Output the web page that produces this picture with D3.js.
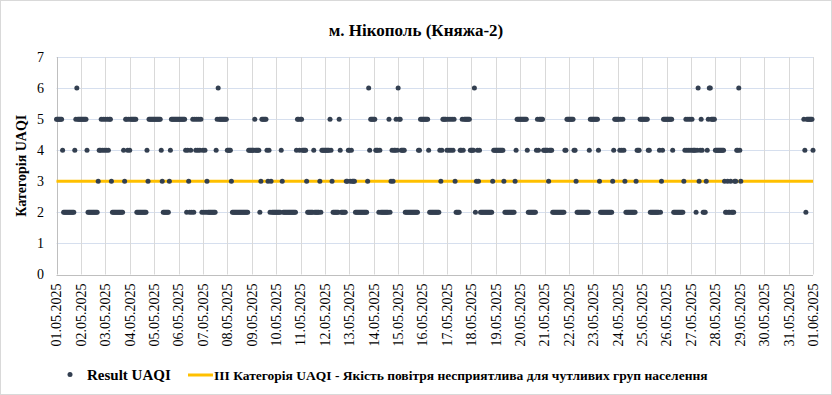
<!DOCTYPE html>
<html>
<head>
<meta charset="utf-8">
<script src="https://cdn.jsdelivr.net/npm/d3@7"></script>
<style>
  body { margin: 0; background: #fff; }
  svg { display: block; }
</style>
</head>
<body>
<svg id="chart" width="832" height="395"></svg>
<script>
// ---- data ----
const chartTitle = "м. Нікополь (Княжа-2)";
const yTitle = "Категорія UAQI";
const seriesName = "Result UAQI";
const thresholdName = "III Категорія UAQI - Якість повітря несприятлива для чутливих груп населення";
const thresholdValue = 3;
const yTicks = [0, 1, 2, 3, 4, 5, 6, 7];
const dayLabels = [
  "01.05.2025", "02.05.2025", "03.05.2025", "04.05.2025", "05.05.2025", "06.05.2025",
  "07.05.2025", "08.05.2025", "09.05.2025", "10.05.2025", "11.05.2025", "12.05.2025",
  "13.05.2025", "14.05.2025", "15.05.2025", "16.05.2025", "17.05.2025", "18.05.2025",
  "19.05.2025", "20.05.2025", "21.05.2025", "22.05.2025", "23.05.2025", "24.05.2025",
  "25.05.2025", "26.05.2025", "27.05.2025", "28.05.2025", "29.05.2025", "30.05.2025",
  "31.05.2025", "01.06.2025"
];
// hourly UAQI category, one string per day (hours 00..23), "-" = no value
const uaqiByDay = [
  "555555422222222222456555",
  "555555422222222223445454",
  "545455322222222222435545",
  "455555522222222224355555",
  "555555543222222345555555",
  "555555542432425254545452",
  "424232222222245655555555",
  "444432222222222222222444",
  "444544442355555434232222",
  "222224322222222222224554",
  "554444322222242222232444",
  "444445432222225422222334",
  "434333222222222222364555",
  "554442422222222523434454",
  "655444422222222222224455",
  "555555422222222224345555",
  "454545453222244545555554",
  "444623434222222222222344",
  "444444443222222222234555",
  "555555542222222245455554",
  "444434442222222222224455",
  "555554432222222222224555",
  "555554322222222222234555",
  "554545432222222222344455",
  "555555442222222224234555",
  "555555422222222223454545",
  "454442463454222345665555",
  "444444444322322322233446",
  "43----------------------",
  "------------------------",
  "---------------542555555",
  "4"
];

// ---- layout ----
var svg = d3.select("svg#chart")
    .attr("font-family", "'Liberation Serif', 'Times New Roman', 'DejaVu Serif', serif"),
    width = +svg.attr("width"),
    height = +svg.attr("height");
var plotLeft = 56.5, plotRight = 813, plotTop = 57, plotBottom = 274.5;

// hourly points
var points = [];
uaqiByDay.forEach(function (s, d) {
  s.split("").forEach(function (c, h) {
    if (c !== "-") points.push({ t: d * 24 + h, v: +c });
  });
});

var x = d3.scaleLinear().domain([0, (dayLabels.length - 1) * 24]).range([plotLeft, plotRight]);
var y = d3.scaleLinear().domain([0, 7]).range([plotBottom, plotTop]);

// chart border
svg.append("rect")
  .attr("x", 0.5).attr("y", 0.5)
  .attr("width", width - 1).attr("height", height - 1)
  .attr("fill", "#fff").attr("stroke", "#d9d9d9");

// horizontal grid
svg.append("g").selectAll("line")
  .data(yTicks.filter(function (d) { return d > 0; }))
  .enter().append("line")
  .attr("x1", plotLeft).attr("x2", plotRight)
  .attr("y1", function (d) { return Math.round(y(d)) + 0.5; })
  .attr("y2", function (d) { return Math.round(y(d)) + 0.5; })
  .attr("stroke", "#d6dfee");

// vertical grid (one per day)
svg.append("g").selectAll("line")
  .data(dayLabels.slice(1))
  .enter().append("line")
  .attr("x1", function (d, i) { return Math.round(x((i + 1) * 24)) + 0.5; })
  .attr("x2", function (d, i) { return Math.round(x((i + 1) * 24)) + 0.5; })
  .attr("y1", plotTop).attr("y2", plotBottom)
  .attr("stroke", "#d9d9d9");

// axes lines
svg.append("line")
  .attr("x1", Math.round(plotLeft) + 0.5).attr("x2", Math.round(plotLeft) + 0.5)
  .attr("y1", plotTop).attr("y2", plotBottom)
  .attr("stroke", "#bfbfbf");
svg.append("line")
  .attr("x1", plotLeft).attr("x2", plotRight)
  .attr("y1", Math.round(plotBottom) + 0.5).attr("y2", Math.round(plotBottom) + 0.5)
  .attr("stroke", "#bfbfbf");

// y tick labels
svg.append("g").selectAll("text")
  .data(yTicks)
  .enter().append("text")
  .attr("x", 44)
  .attr("y", function (d) { return y(d); })
  .attr("dy", "0.35em")
  .attr("text-anchor", "end")
  .attr("font-size", "14px")
  .text(function (d) { return d; });

// x tick labels (rotated)
svg.append("g").selectAll("text")
  .data(dayLabels)
  .enter().append("text")
  .attr("transform", function (d, i) {
    return "translate(" + x(i * 24) + "," + (plotBottom + 9) + ")rotate(-90)";
  })
  .attr("dy", "0.35em")
  .attr("text-anchor", "end")
  .attr("font-size", "14px")
  .text(function (d) { return d; });

// threshold line
svg.append("line")
  .attr("x1", plotLeft).attr("x2", plotRight)
  .attr("y1", y(thresholdValue)).attr("y2", y(thresholdValue))
  .attr("stroke", "#ffc000")
  .attr("stroke-width", 3);

// points
svg.append("g").selectAll("circle")
  .data(points)
  .enter().append("circle")
  .attr("cx", function (d) { return x(d.t); })
  .attr("cy", function (d) { return y(d.v); })
  .attr("r", 2.5)
  .attr("fill", "#333f50");

// title
svg.append("text")
  .attr("x", 416).attr("y", 36)
  .attr("text-anchor", "middle")
  .attr("font-size", "17px")
  .attr("font-weight", "bold")
  .text(chartTitle);

// y axis title
svg.append("text")
  .attr("transform", "translate(21," + ((plotTop + plotBottom) / 2) + ")rotate(-90)")
  .attr("dy", "0.35em")
  .attr("text-anchor", "middle")
  .attr("font-size", "14px")
  .attr("font-weight", "bold")
  .text(yTitle);

// legend
var legend = svg.append("g");
legend.append("circle")
  .attr("cx", 70).attr("cy", 374.5).attr("r", 2.5)
  .attr("fill", "#333f50");
legend.append("text")
  .attr("x", 87).attr("y", 379.5)
  .attr("font-size", "15px").attr("font-weight", "bold")
  .text(seriesName);
legend.append("line")
  .attr("x1", 188).attr("x2", 213)
  .attr("y1", 375).attr("y2", 375)
  .attr("stroke", "#ffc000").attr("stroke-width", 3);
legend.append("text")
  .attr("x", 214).attr("y", 379.5)
  .attr("font-size", "13.5px").attr("font-weight", "bold")
  .text(thresholdName);
</script>
</body>
</html>
